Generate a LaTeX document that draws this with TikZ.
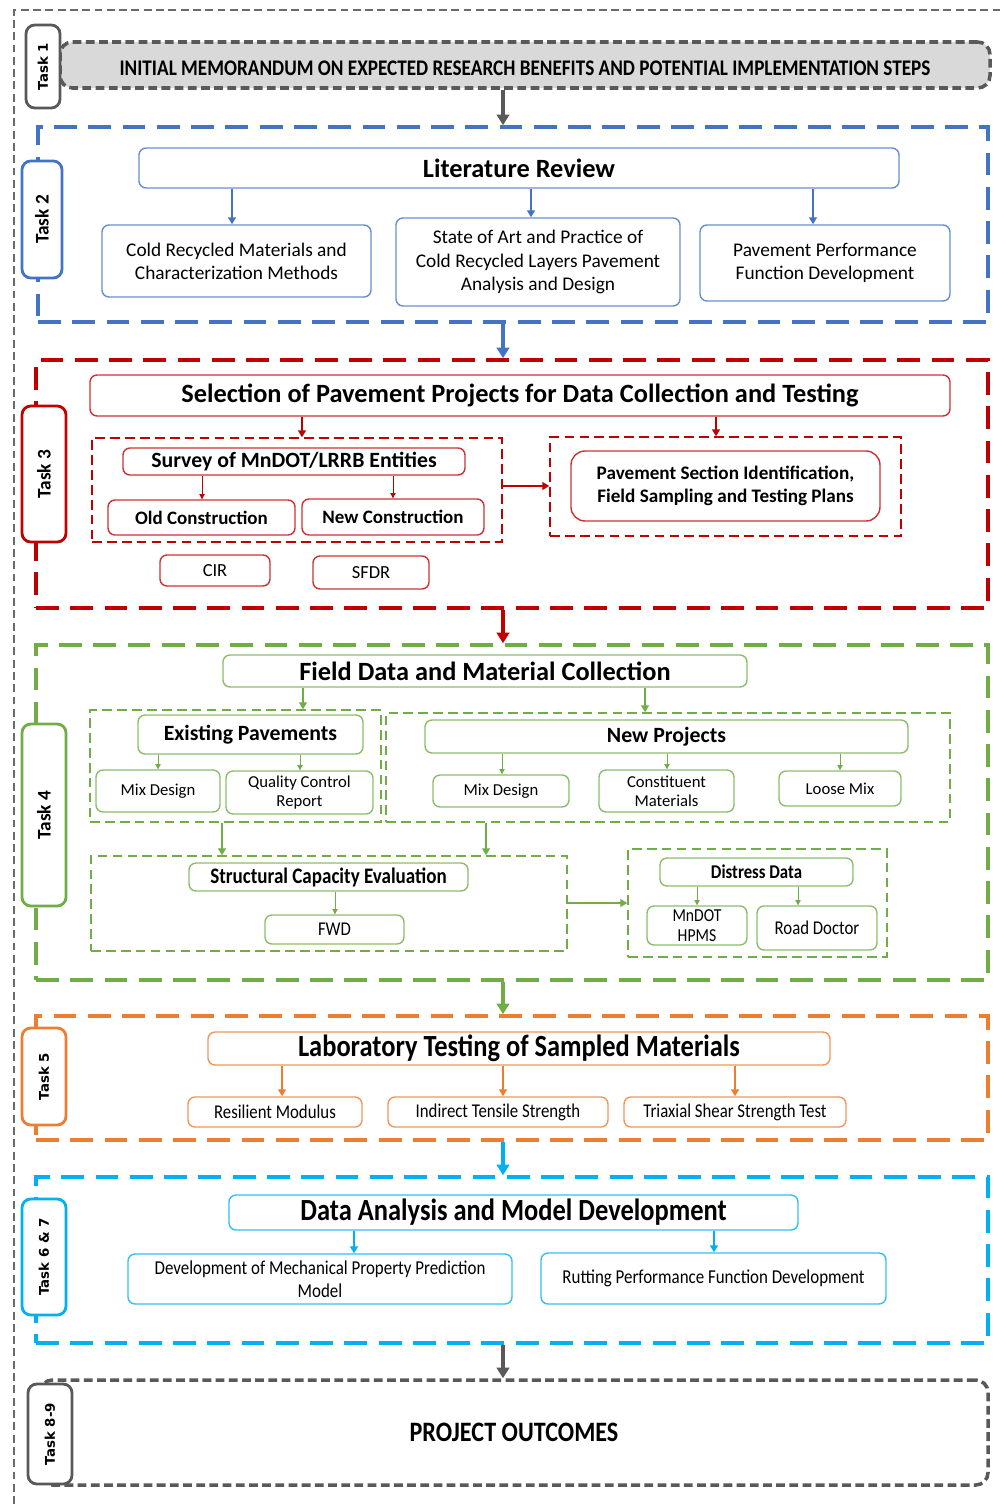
\documentclass[tikz,border=0pt]{standalone}
\usepackage{fontspec}
\setmainfont{Carlito}
\newfontfamily\narrowfont{Carlito}[FakeStretch=0.86]
\newfontfamily\labelfont{DejaVu Sans}
\usetikzlibrary{arrows.meta,positioning}
\definecolor{tgray}{HTML}{595959}
\definecolor{tblue}{HTML}{4472C4}
\definecolor{tred}{HTML}{C00000}
\definecolor{tgreen}{HTML}{70AD47}
\definecolor{torange}{HTML}{ED7D31}
\definecolor{tcyan}{HTML}{00B0F0}
\tikzset{
  frameline/.style={draw=tgray!90,line width=1.1pt,dash pattern=on 4.5pt off 2.5pt},
  phasebox/.style={draw=#1,line width=2pt,dash pattern=on 13pt off 6.5pt,inner sep=0pt},
  endbox/.style={draw=tgray,fill=#1,line width=2pt,dash pattern=on 5pt off 2.5pt,rounded corners=7pt,inner sep=0pt},
  grpbox/.style={draw=#1,line width=0.8pt,dash pattern=on 5.5pt off 3pt,inner sep=0pt},
  stepbox/.style={draw=#1!80,fill=white,line width=0.8pt,rounded corners=4pt,align=center,inner sep=1pt},
  tasklbl/.style={draw=#1,fill=white,line width=1.6pt,rounded corners=5pt,rotate=90,inner sep=0pt,
    font=\fontsize{11}{13}\selectfont\bfseries},
  tasklblv/.style={tasklbl=#1,font=\labelfont\fontsize{7.6}{9}\selectfont\bfseries},
  flowarr/.style={-{Triangle[length=6pt,width=7pt]},line width=2.4pt,draw=#1},
  subarr/.style={-{Triangle[length=4pt,width=4.5pt]},line width=1.2pt,draw=#1},
  tinyarr/.style={-{Triangle[length=3pt,width=3pt]},line width=0.5pt,draw=#1},
  ttlfont/.style={font=\fontsize{15}{17}\selectfont\bfseries},
  subfont/.style={font=\fontsize{12.4}{14}\selectfont\bfseries},
  txtfont/.style={font=\fontsize{11}{13.2}\selectfont},
  smlfont/.style={font=\fontsize{9.5}{11}\selectfont},
  nrwfont/.style={font=\narrowfont\fontsize{11.1}{12.5}\selectfont},
}

\begin{document}
\begin{tikzpicture}
  \useasboundingbox (0,0) rectangle (20.04,-30.08);
  \draw[frameline] (0.28,-30.08) -- (0.28,-0.2) -- (20.04,-0.2);

  % task 1
  \node[endbox=gray!30,minimum width=18.6cm,minimum height=0.92cm,
    font=\narrowfont\fontsize{12.7}{14}\selectfont\bfseries] (t1) at (10.5,-1.30)
    {\raisebox{-0.21cm}[0pt][0pt]{INITIAL MEMORANDUM ON EXPECTED RESEARCH BENEFITS AND POTENTIAL IMPLEMENTATION STEPS}};
  \node[tasklblv=tgray,minimum width=1.66cm,minimum height=0.68cm] (k1) at (0.86,-1.33) {Task 1};

  % task 2
  \node[phasebox=tblue,minimum width=19cm,minimum height=3.9cm] (t2) at (10.26,-4.49) {};
  \node[tasklbl=tblue,minimum width=2.34cm,minimum height=0.8cm] (k2) at (0.84,-4.39) {Task 2};
  \node[stepbox=tblue,ttlfont,minimum width=15.2cm,minimum height=0.8cm] (lit) at (10.38,-3.36) {Literature Review};
  \node[stepbox=tblue,txtfont,minimum width=5.38cm,minimum height=1.44cm] (crm) at (4.73,-5.22)
    {Cold Recycled Materials and\\Characterization Methods};
  \node[stepbox=tblue,txtfont,minimum width=5.68cm,minimum height=1.76cm] (sap) at (10.76,-5.24)
    {State of Art and Practice of\\Cold Recycled Layers Pavement\\Analysis and Design};
  \node[stepbox=tblue,txtfont,minimum width=5cm,minimum height=1.52cm] (ppf) at (16.5,-5.26)
    {Pavement Performance\\Function Development};
  \draw[subarr=tblue] (lit.south -| 4.64,0) -- (crm.north -| 4.64,0);
  \draw[subarr=tblue] (lit.south -| 10.62,0) -- (sap.north -| 10.62,0);
  \draw[subarr=tblue] (lit.south -| 16.26,0) -- (ppf.north -| 16.26,0);

  % task 3
  \node[phasebox=tred,minimum width=19.04cm,minimum height=4.96cm] (t3) at (10.24,-9.68) {};
  \node[tasklbl=tred,minimum width=2.72cm,minimum height=0.88cm] (k3) at (0.88,-9.48) {Task 3};
  \node[stepbox=tred,ttlfont,minimum width=17.2cm,minimum height=0.82cm] (sel) at (10.4,-7.91)
    {Selection of Pavement Projects for Data Collection and Testing};
  \node[grpbox=tred,minimum width=8.2cm,minimum height=2.08cm] (grpA) at (5.94,-9.80) {};
  \node[grpbox=tred,minimum width=7.02cm,minimum height=1.98cm] (grpB) at (14.51,-9.73) {};
  \node[stepbox=tred,subfont,minimum width=6.84cm,minimum height=0.54cm] (svy) at (5.88,-9.23)
    {Survey of MnDOT/LRRB Entities};
  \node[stepbox=tred,font=\fontsize{10.8}{12}\selectfont\bfseries,minimum width=3.74cm,minimum height=0.7cm] (old) at (4.03,-10.35)
    {Old Construction};
  \node[stepbox=tred,font=\fontsize{10.8}{12}\selectfont\bfseries,minimum width=3.64cm,minimum height=0.72cm] (new) at (7.86,-10.34)
    {New Construction};
  \node[stepbox=tred,font=\fontsize{10.5}{12}\selectfont,minimum width=2.2cm,minimum height=0.62cm] (cir) at (4.30,-11.41) {CIR};
  \node[stepbox=tred,font=\fontsize{10.5}{12}\selectfont,minimum width=2.32cm,minimum height=0.66cm] (sfdr) at (7.42,-11.45) {SFDR};
  \node[stepbox=tred,font=\fontsize{10.9}{13.2}\selectfont\bfseries,minimum width=6.18cm,minimum height=1.4cm,rounded corners=8pt] (pss) at (14.51,-9.72)
    {Pavement Section Identification,\\Field Sampling and Testing Plans};
  \draw[subarr=tred] (sel.south -| 6.04,0) -- (grpA.north -| 6.04,0);
  \draw[subarr=tred] (sel.south -| 14.32,0) -- (grpB.north -| 14.32,0);
  \draw[tinyarr=tred] (svy.south -| 4.04,0) -- (old.north -| 4.04,0);
  \draw[tinyarr=tred] (svy.south -| 7.86,0) -- (new.north -| 7.86,0);
  \draw[subarr=tred] (grpA.east |- 0,-9.72) -- (grpB.west |- 0,-9.72);

  % task 4
  \node[phasebox=tgreen,minimum width=19.04cm,minimum height=6.7cm] (t4) at (10.24,-16.25) {};
  \node[tasklbl=tgreen,minimum width=3.64cm,minimum height=0.88cm] (k4) at (0.88,-16.30) {Task 4};
  \node[stepbox=tgreen,ttlfont,minimum width=10.48cm,minimum height=0.64cm] (fdc) at (9.70,-13.42)
    {Field Data and Material Collection};
  \node[grpbox=tgreen,minimum width=5.82cm,minimum height=2.24cm] (grpE) at (4.71,-15.32) {};
  \node[grpbox=tgreen,minimum width=11.28cm,minimum height=2.18cm] (grpN) at (13.36,-15.35) {};
  \node[stepbox=tgreen,subfont,minimum width=4.5cm,minimum height=0.78cm] (exist) at (5.01,-14.69) {Existing Pavements};
  \node[stepbox=tgreen,smlfont,minimum width=2.48cm,minimum height=0.84cm] (mixE) at (3.16,-15.82) {Mix Design};
  \node[stepbox=tgreen,smlfont,minimum width=2.94cm,minimum height=0.86cm] (qcr) at (5.99,-15.85) {Quality Control\\Report};
  \node[stepbox=tgreen,subfont,minimum width=9.66cm,minimum height=0.66cm] (newp) at (13.33,-14.73) {New Projects};
  \node[stepbox=tgreen,smlfont,minimum width=2.72cm,minimum height=0.64cm] (mixN) at (10.02,-15.82) {Mix Design};
  \node[stepbox=tgreen,smlfont,minimum width=2.7cm,minimum height=0.84cm] (cons) at (13.33,-15.82) {Constituent\\Materials};
  \node[stepbox=tgreen,smlfont,minimum width=2.44cm,minimum height=0.7cm] (loose) at (16.80,-15.77) {Loose Mix};
  \draw[subarr=tgreen] (fdc.south -| 6.06,0) -- (grpE.north -| 6.06,0);
  \draw[subarr=tgreen] (fdc.south -| 12.9,0) -- (grpN.north -| 12.9,0);
  \draw[tinyarr=tgreen] (exist.south -| 3.16,0) -- (mixE.north -| 3.16,0);
  \draw[tinyarr=tgreen] (exist.south -| 6.0,0) -- (qcr.north -| 6.0,0);
  \draw[tinyarr=tgreen] (newp.south -| 10.04,0) -- (mixN.north -| 10.04,0);
  \draw[tinyarr=tgreen] (newp.south -| 13.34,0) -- (cons.north -| 13.34,0);
  \draw[tinyarr=tgreen] (newp.south -| 16.8,0) -- (loose.north -| 16.8,0);
  \node[grpbox=tgreen,minimum width=9.52cm,minimum height=1.9cm] (grpS) at (6.58,-18.07) {};
  \node[stepbox=tgreen,font=\narrowfont\fontsize{12.6}{14}\selectfont\bfseries,minimum width=5.58cm,minimum height=0.56cm] (sce) at (6.57,-17.54)
    {Structural Capacity Evaluation};
  \node[stepbox=tgreen,nrwfont,minimum width=2.78cm,minimum height=0.58cm] (fwd) at (6.69,-18.59) {FWD};
  \node[grpbox=tgreen,minimum width=5.18cm,minimum height=2.16cm] (grpD) at (15.15,-18.06) {};
  \node[stepbox=tgreen,font=\narrowfont\fontsize{11.1}{12.5}\selectfont\bfseries,minimum width=3.86cm,minimum height=0.56cm] (dd) at (15.13,-17.44) {Distress Data};
  \node[stepbox=tgreen,font=\narrowfont\fontsize{10.4}{11.4}\selectfont,minimum width=2cm,minimum height=0.78cm] (mnd) at (13.94,-18.51) {MnDOT\\HPMS};
  \node[stepbox=tgreen,nrwfont,minimum width=2.4cm,minimum height=0.88cm] (rd) at (16.34,-18.56) {Road Doctor};
  \draw[subarr=tgreen] (grpE.south -| 4.44,0) -- (grpS.north -| 4.44,0);
  \draw[subarr=tgreen] (grpN.south -| 9.72,0) -- (grpS.north -| 9.72,0);
  \draw[tinyarr=tgreen] (sce.south -| 6.7,0) -- (fwd.north -| 6.7,0);
  \draw[tinyarr=tgreen] (dd.south -| 13.94,0) -- (mnd.north -| 13.94,0);
  \draw[tinyarr=tgreen] (dd.south -| 15.96,0) -- (rd.north -| 15.96,0);
  \draw[subarr=tgreen] (grpS.east |- 0,-18.06) -- (grpD.west |- 0,-18.06);

  % task 5
  \node[phasebox=torange,minimum width=19.04cm,minimum height=2.48cm] (t5) at (10.24,-21.56) {};
  \node[tasklblv=torange,minimum width=1.94cm,minimum height=0.88cm] (k5) at (0.88,-21.53) {Task 5};
  \node[stepbox=torange,font=\narrowfont\fontsize{17.5}{19}\selectfont\bfseries,minimum width=12.44cm,minimum height=0.66cm] (lab) at (10.38,-20.97)
    {Laboratory Testing of Sampled Materials};
  \node[stepbox=torange,nrwfont,minimum width=3.48cm,minimum height=0.6cm] (rm) at (5.50,-22.24) {Resilient Modulus};
  \node[stepbox=torange,nrwfont,minimum width=4.4cm,minimum height=0.6cm] (its) at (9.96,-22.24) {Indirect Tensile Strength};
  \node[stepbox=torange,nrwfont,minimum width=4.44cm,minimum height=0.6cm] (tri) at (14.70,-22.24) {Triaxial Shear Strength Test};
  \draw[subarr=torange] (lab.south -| 5.64,0) -- (rm.north -| 5.64,0);
  \draw[subarr=torange] (lab.south -| 10.06,0) -- (its.north -| 10.06,0);
  \draw[subarr=torange] (lab.south -| 14.7,0) -- (tri.north -| 14.7,0);

  % task 6 and 7
  \node[phasebox=tcyan,minimum width=19.04cm,minimum height=3.32cm] (t6) at (10.24,-25.20) {};
  \node[tasklblv=tcyan,minimum width=2.32cm,minimum height=0.88cm] (k6) at (0.88,-25.14) {Task 6 \& 7};
  \node[stepbox=tcyan,font=\narrowfont\fontsize{17.5}{19}\selectfont\bfseries,minimum width=11.38cm,minimum height=0.7cm] (dam) at (10.27,-24.25)
    {Data Analysis and Model Development};
  \node[stepbox=tcyan,font=\narrowfont\fontsize{11.2}{13}\selectfont,minimum width=7.68cm,minimum height=1cm] (dmp) at (6.40,-25.58)
    {Development of Mechanical Property Prediction\\Model};
  \node[stepbox=tcyan,font=\narrowfont\fontsize{11.2}{13}\selectfont,minimum width=6.9cm,minimum height=1.02cm] (rpf) at (14.27,-25.57)
    {Rutting Performance Function Development};
  \draw[subarr=tcyan] (dam.south -| 7.08,0) -- (dmp.north -| 7.08,0);
  \draw[subarr=tcyan] (dam.south -| 14.28,0) -- (rpf.north -| 14.28,0);

  % task 8-9
  \node[endbox=white,minimum width=18.96cm,minimum height=2.1cm,
    font=\narrowfont\fontsize{16}{18}\selectfont\bfseries] (t8) at (10.28,-28.65) {PROJECT OUTCOMES};
  \node[tasklblv=tgray,minimum width=2cm,minimum height=0.88cm] (k8) at (1.0,-28.68) {Task 8-9};

  % flow between tasks
  \draw[flowarr=tgray] (t1.south -| 10.06,0) -- (t2.north -| 10.06,0);
  \draw[flowarr=tblue] (t2.south -| 10.06,0) -- (t3.north -| 10.06,0);
  \draw[flowarr=tred] (t3.south -| 10.06,0) -- (t4.north -| 10.06,0);
  \draw[flowarr=tgreen] (t4.south -| 10.06,0) -- (t5.north -| 10.06,0);
  \draw[flowarr=tcyan] (t5.south -| 10.06,0) -- (t6.north -| 10.06,0);
  \draw[flowarr=tgray] (t6.south -| 10.06,0) -- (t8.north -| 10.06,0);
\end{tikzpicture}
\end{document}
